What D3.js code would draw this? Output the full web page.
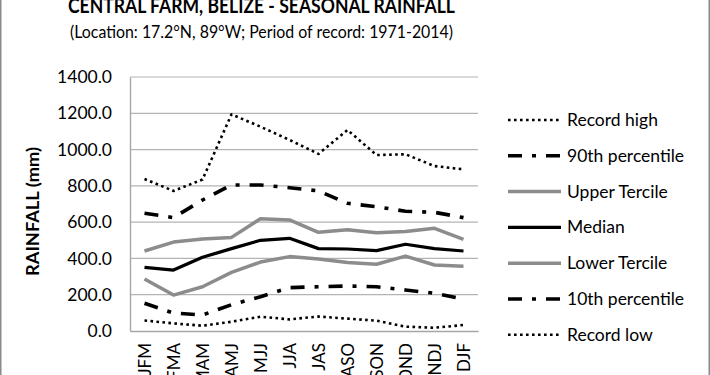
<!DOCTYPE html>
<html><head><meta charset="utf-8">
<script src="https://cdn.jsdelivr.net/npm/d3@7/dist/d3.min.js"></script>
<style>
html,body{margin:0;padding:0;background:#fff;}
svg{display:block;}
text{font-family:Lato,"Open Sans",sans-serif;fill:#000;}
</style></head>
<body>
<svg id="chart" width="710" height="375"></svg>
<script>
const seasons = ["JFM","FMA","MAM","AMJ","MJJ","JJA","JAS","ASO","SON","OND","NDJ","DJF"];
const recordHigh   = [838, 772, 835, 1194, 1126, 1053, 976, 1108, 970, 974, 909, 891];
const pct90        = [649, 625, 722, 805, 805, 790, 772, 704, 685, 660, 654, 625];
const upperTercile = [441, 490, 507, 516, 619, 612, 544, 558, 542, 549, 566, 505];
const median       = [351, 336, 406, 454, 500, 511, 454, 452, 443, 478, 454, 441];
const lowerTercile = [287, 198, 244, 323, 380, 410, 397, 377, 368, 413, 364, 357];
const pct10        = [153, 99, 88, 145, 189, 239, 244, 248, 244, 226, 208, 176];
const recordLow    = [58, 42, 29, 51, 79, 64, 80, 68, 57, 24, 18, 33];
const yTicks = [0,200,400,600,800,1000,1200,1400];

const series = [
  {name:"Record high",     values:recordHigh,   color:"#000", width:2.6, dash:"2.6,3.4", cap:"butt"},
  {name:"90th percentile", values:pct90,        color:"#000", width:3.6, dash:"14,10,4,10", cap:"butt"},
  {name:"Upper Tercile",   values:upperTercile, color:"#8c8c8c", width:3.5, dash:null, cap:"butt"},
  {name:"Median",          values:median,       color:"#000", width:3.2, dash:null, cap:"butt"},
  {name:"Lower Tercile",   values:lowerTercile, color:"#8c8c8c", width:3.5, dash:null, cap:"butt"},
  {name:"10th percentile", values:pct10,        color:"#000", width:3.6, dash:"14,10,4,10", cap:"butt"},
  {name:"Record low",      values:recordLow,    color:"#000", width:2.6, dash:"2.6,3.4", cap:"butt"}
];

const svg = d3.select("#chart");
const L = 130, R = 478, T = 77, B = 331;

// outer frame lines
svg.append("rect").attr("x",0).attr("y",0).attr("width",1.5).attr("height",375).attr("fill","#8a8a8a");
svg.append("rect").attr("x",708.5).attr("y",0).attr("width",1.5).attr("height",375).attr("fill","#8a8a8a");

const x = d3.scalePoint().domain(seasons).range([L, R]).padding(0.5);
const y = d3.scaleLinear().domain([0,1400]).range([B, T]);

// gridlines
svg.append("g").selectAll("line").data(yTicks.filter(d=>d>0)).join("line")
  .attr("x1",L).attr("x2",R).attr("y1",d=>y(d)).attr("y2",d=>y(d))
  .attr("stroke","#b4b4b4").attr("stroke-width",1.2);

// y axis
const yAxis = svg.append("g").attr("transform",`translate(${L},0)`)
  .call(d3.axisLeft(y).tickValues(yTicks).tickFormat(d3.format(".1f")).tickSize(0).tickPadding(18));
yAxis.select(".domain").attr("stroke","#a6a6a6").attr("stroke-width",1.4);
yAxis.selectAll("text").style("font-size","17.5px").attr("fill","#000");

// x axis
const xAxis = svg.append("g").attr("transform",`translate(0,${B})`)
  .call(d3.axisBottom(x).tickSize(0));
xAxis.select(".domain").attr("stroke","#a6a6a6").attr("stroke-width",1.4);
xAxis.selectAll("text")
  .style("font-size","17px")
  .attr("text-anchor","end")
  .attr("dy",null).attr("y",0).attr("x",0)
  .attr("transform","translate(6,12) rotate(-90)");

// lines
const line = d3.line().x((d,i)=>x(seasons[i])).y(d=>y(d));
const g = svg.append("g");
series.forEach(s=>{
  g.append("path").datum(s.values)
    .attr("d",line).attr("fill","none")
    .attr("stroke",s.color).attr("stroke-width",s.width)
    .attr("stroke-dasharray",s.dash).attr("stroke-linecap",s.cap)
    .attr("stroke-linejoin","round");
});

// legend
const leg = svg.append("g");
series.forEach((s,i)=>{
  const ly = 120 + i*35.8;
  leg.append("line").attr("x1",508).attr("x2",561).attr("y1",ly).attr("y2",ly)
    .attr("stroke",s.color).attr("stroke-width",s.width)
    .attr("stroke-dasharray",s.dash).attr("stroke-linecap",s.cap);
  leg.append("text").attr("x",567).attr("y",ly+6).style("font-size","17.5px").text(s.name);
});

// titles
svg.append("text").attr("x",261.5).attr("y",13).attr("text-anchor","middle")
  .style("font-size","21px").style("font-weight","bold")
  .attr("textLength",387).attr("lengthAdjust","spacingAndGlyphs")
  .text("CENTRAL FARM,  BELIZE - SEASONAL RAINFALL");
svg.append("text").attr("x",261.5).attr("y",38).attr("text-anchor","middle")
  .style("font-size","18px")
  .attr("textLength",383).attr("lengthAdjust","spacingAndGlyphs")
  .text("(Location: 17.2°N, 89°W; Period of record: 1971-2014)");

// y axis title
svg.append("text").attr("transform","translate(39,211.5) rotate(-90)")
  .attr("text-anchor","middle").style("font-size","16.5px").style("font-weight","bold")
  .attr("textLength",129).attr("lengthAdjust","spacingAndGlyphs")
  .text("RAINFALL (mm)");
</script>
</body></html>
